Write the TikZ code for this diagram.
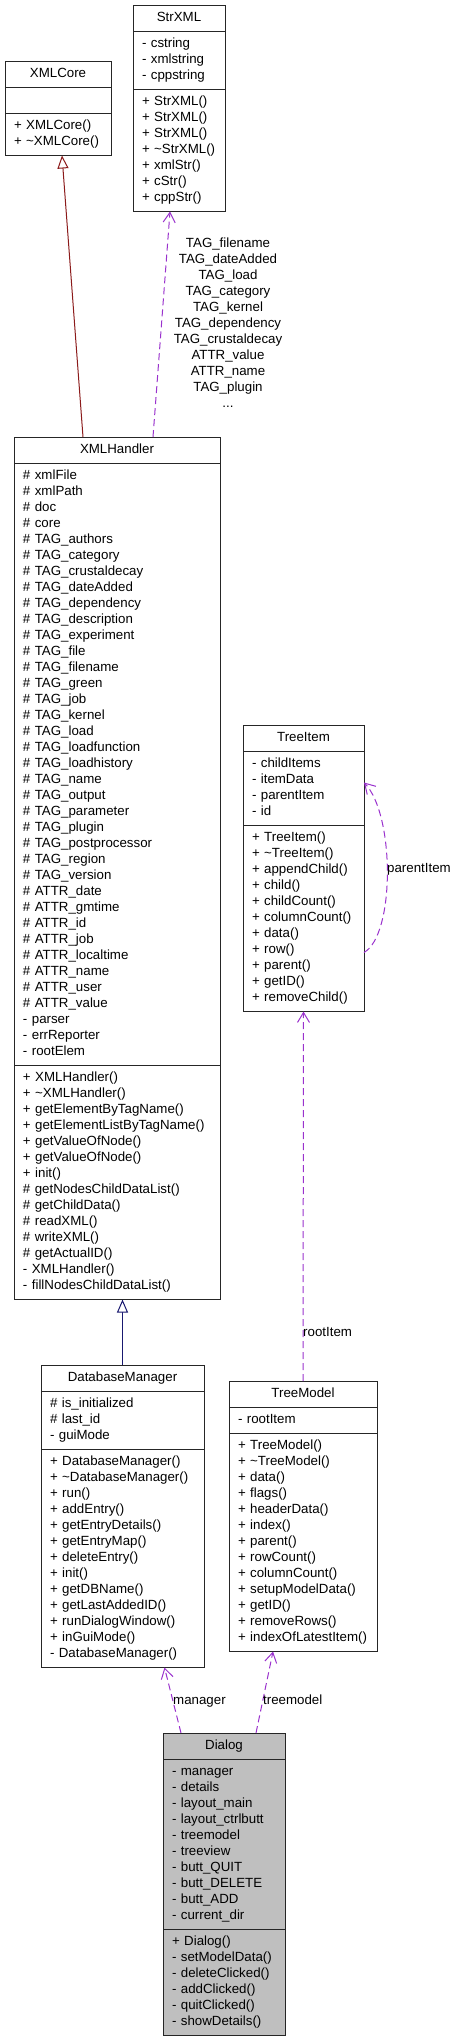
\documentclass[tikz,border=0pt]{standalone}
\usepackage{fontspec}
\setmainfont{Liberation Sans}
\usetikzlibrary{positioning,arrows.meta}
\definecolor{linkPurple}{RGB}{154, 50, 205}
\definecolor{privateRed}{RGB}{139, 26, 26}
\definecolor{publicBlue}{RGB}{25, 25, 112}
\definecolor{focusGrey}{RGB}{191, 191, 191}
\tikzset{
  umlfont/.style={font=\fontsize{13.3}{16}\selectfont},
  classhead/.style={draw=black!85, line width=1pt, fill=white, umlfont,
    text width=#1, align=center, inner xsep=9pt, inner ysep=5.25pt,
    outer sep=0pt, execute at begin node=\strut},
  classsec/.style={classhead=#1, align=left, inner ysep=5pt,
    execute at end node=\strut},
  assoc/.style={draw=linkPurple, line width=1pt, dash pattern=on 7pt off 4pt,
    -{Straight Barb[length=10pt,width=12pt]}},
  inherit/.style={line width=1pt, -{Triangle[open,length=13pt,width=11pt,fill=white]}},
  edgelabel/.style={umlfont, inner sep=2pt, execute at begin node=\strut}
}
\begin{document}
\begin{tikzpicture}[x=1pt,y=-1pt]
  \useasboundingbox (0,0) rectangle (456,2043);

  % StrXML
  \node[classhead=74pt, anchor=north west] (strxml) at (133,5) {StrXML};
  \node[classsec=74pt, below=0pt of strxml] (strxmlA) {- cstring\\- xmlstring\\- cppstring};
  \node[classsec=74pt, below=0pt of strxmlA] (strxmlM) {+ StrXML()\\+ StrXML()\\+ StrXML()\\+ \textasciitilde StrXML()\\+ xmlStr()\\+ cStr()\\+ cppStr()};

  % XMLCore
  \node[classhead=88pt, anchor=north west] (core) at (5,61) {XMLCore};
  \node[classsec=88pt, below=0pt of core] (coreA) {};
  \node[classsec=88pt, below=0pt of coreA] (coreM) {+ XMLCore()\\+ \textasciitilde XMLCore()};

  % XMLHandler
  \node[classhead=188pt, anchor=north west] (xmlh) at (14,437) {XMLHandler};
  \node[classsec=188pt, below=0pt of xmlh] (xmlhA) {\# xmlFile\\\# xmlPath\\\# doc\\\# core\\\# TAG\_authors\\\# TAG\_category\\\# TAG\_crustaldecay\\\# TAG\_dateAdded\\\# TAG\_dependency\\\# TAG\_description\\\# TAG\_experiment\\\# TAG\_file\\\# TAG\_filename\\\# TAG\_green\\\# TAG\_job\\\# TAG\_kernel\\\# TAG\_load\\\# TAG\_loadfunction\\\# TAG\_loadhistory\\\# TAG\_name\\\# TAG\_output\\\# TAG\_parameter\\\# TAG\_plugin\\\# TAG\_postprocessor\\\# TAG\_region\\\# TAG\_version\\\# ATTR\_date\\\# ATTR\_gmtime\\\# ATTR\_id\\\# ATTR\_job\\\# ATTR\_localtime\\\# ATTR\_name\\\# ATTR\_user\\\# ATTR\_value\\- parser\\- errReporter\\- rootElem};
  \node[classsec=188pt, below=0pt of xmlhA] (xmlhM) {+ XMLHandler()\\+ \textasciitilde XMLHandler()\\+ getElementByTagName()\\+ getElementListByTagName()\\+ getValueOfNode()\\+ getValueOfNode()\\+ init()\\\# getNodesChildDataList()\\\# getChildData()\\\# readXML()\\\# writeXML()\\\# getActualID()\\- XMLHandler()\\- fillNodesChildDataList()};

  % DatabaseManager
  \node[classhead=145pt, anchor=north west] (dbm) at (41,1365) {DatabaseManager};
  \node[classsec=145pt, below=0pt of dbm] (dbmA) {\# is\_initialized\\\# last\_id\\- guiMode};
  \node[classsec=145pt, below=0pt of dbmA] (dbmM) {+ DatabaseManager()\\+ \textasciitilde DatabaseManager()\\+ run()\\+ addEntry()\\+ getEntryDetails()\\+ getEntryMap()\\+ deleteEntry()\\+ init()\\+ getDBName()\\+ getLastAddedID()\\+ runDialogWindow()\\+ inGuiMode()\\- DatabaseManager()};

  % TreeItem
  \node[classhead=103pt, anchor=north west] (titem) at (243,725) {TreeItem};
  \node[classsec=103pt, below=0pt of titem] (titemA) {- childItems\\- itemData\\- parentItem\\- id};
  \node[classsec=103pt, below=0pt of titemA] (titemM) {+ TreeItem()\\+ \textasciitilde TreeItem()\\+ appendChild()\\+ child()\\+ childCount()\\+ columnCount()\\+ data()\\+ row()\\+ parent()\\+ getID()\\+ removeChild()};

  % TreeModel
  \node[classhead=130pt, anchor=north west] (tmodel) at (229,1381) {TreeModel};
  \node[classsec=130pt, below=0pt of tmodel] (tmodelA) {- rootItem};
  \node[classsec=130pt, below=0pt of tmodelA] (tmodelM) {+ TreeModel()\\+ \textasciitilde TreeModel()\\+ data()\\+ flags()\\+ headerData()\\+ index()\\+ parent()\\+ rowCount()\\+ columnCount()\\+ setupModelData()\\+ getID()\\+ removeRows()\\+ indexOfLatestItem()};

  % Dialog
  \node[classhead=104pt, fill=focusGrey, anchor=north west] (dlg) at (163,1733) {Dialog};
  \node[classsec=104pt, fill=focusGrey, below=0pt of dlg] (dlgA) {- manager\\- details\\- layout\_main\\- layout\_ctrlbutt\\- treemodel\\- treeview\\- butt\_QUIT\\- butt\_DELETE\\- butt\_ADD\\- current\_dir};
  \node[classsec=104pt, fill=focusGrey, below=0pt of dlgA] (dlgM) {+ Dialog()\\- setModelData()\\- deleteClicked()\\- addClicked()\\- quitClicked()\\- showDetails()};

  % inheritance
  \draw[inherit, privateRed] ([xshift=-34pt]xmlh.north) -- ([xshift=4pt]coreM.south);
  \draw[inherit, publicBlue] (dbm.north) -- (dbm.north |- xmlhM.south);

  % usage
  \draw[assoc] ([xshift=36pt]xmlh.north) -- ([xshift=-9pt]strxmlM.south);
  \draw[assoc] ([yshift=-34pt]titemM.east) .. controls (395,935) and (395,815) .. ([yshift=6pt]titemA.east);
  \draw[assoc] (tmodel.north) -- (titemM.south);
  \draw[assoc] ([xshift=-43pt]dlg.north) -- ([xshift=42pt]dbmM.south);
  \draw[assoc] ([xshift=32pt]dlg.north) -- ([xshift=-30pt]tmodelM.south);

  % labels
  \node[edgelabel, align=center, execute at end node=\strut] (tagsLabel) at (228,325) {TAG\_filename\\TAG\_dateAdded\\TAG\_load\\TAG\_category\\TAG\_kernel\\TAG\_dependency\\TAG\_crustaldecay\\ATTR\_value\\ATTR\_name\\TAG\_plugin\\...};
  \node[edgelabel, anchor=west] (parentLabel) at (385,869) {parentItem};
  \node[edgelabel, anchor=west] (rootLabel) at (301,1333) {rootItem};
  \node[edgelabel, anchor=west] (managerLabel) at (171,1701) {manager};
  \node[edgelabel, anchor=west] (treemodelLabel) at (261,1701) {treemodel};
\end{tikzpicture}
\end{document}
